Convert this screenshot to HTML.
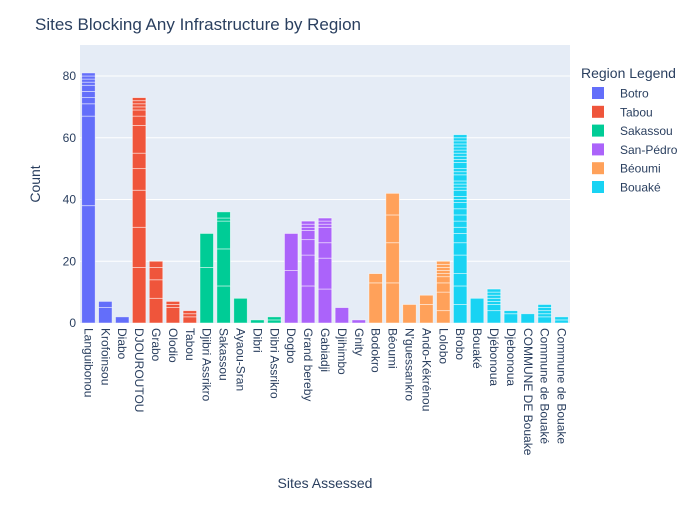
<!DOCTYPE html>
<html><head><meta charset="utf-8"><style>
body{margin:0;background:#fff}
svg text{font-family:"Liberation Sans","Noto Sans CJK JP",sans-serif;fill:#2a3f5f}
</style></head><body>
<svg id="chart" width="700" height="500">
<rect x="0" y="0" width="700" height="500" fill="#fff"/>
<rect x="80" y="45" width="490" height="278" fill="#e5ecf6"/>
<g id="grid"></g><g id="bars"></g><g id="xt"></g><g id="yt"></g>
<text x="35" y="30" font-size="17">Sites Blocking Any Infrastructure by Region</text>
<text x="0" y="0" font-size="14" text-anchor="middle" transform="translate(40,184) rotate(-90)">Count</text>
<text x="325" y="488" font-size="14" text-anchor="middle">Sites Assessed</text>
<g id="legend"><text x="581" y="78" font-size="14">Region Legend</text></g>
</svg>
<script>
const categories=["Languibonou","Krofoinsou","Diabo","DJOUROUTOU","Grabo","Olodio","Tabou","Djibri Assrikro","Sakassou","Ayaou-Sran","Dibri","Dibri Assrikro","Dogbo","Grand bereby","Gabiadji","Djihimbo","Gnity","Bodokro","Béoumi","N'guessankro","Ando-Kékrénou","Lolobo","Brobo","Bouaké","Djébonoua","Djebonoua","COMMUNE DE Bouake","Commune de Bouaké","Commune de Bouake"];
const regionOf=[0,0,0,1,1,1,1,2,2,2,2,2,3,3,3,3,3,4,4,4,4,4,5,5,5,5,5,5,5];
const regions=["Botro","Tabou","Sakassou","San-Pédro","Béoumi","Bouaké"];
const colors=["#636efa","#EF553B","#00cc96","#ab63fa","#FFA15A","#19d3f3"];
const segments=[
[38,29,4,2,2,2,1,1,1,1],[5,2],[2],
[18,13,12,7,5,9,3,2,1,1,1,1],[8,6,4,2],[5,1,1],[2,1,1],
[18,11],[12,12,9,1,2],[8],[1],[1,1],
[17,12],[12,10,5,3,1,1,1],[11,10,5,5,1,1,1],[5],[1],
[13,3],[13,13,9,7],[6],[6,3],[4,6,3,2,1,1,1,1,1],
[6,6,4,6,4,3,2,2,2,2,2,1,1,2,1,1,1,2,1,1,2,1,1,1,1,1,1,1,1,1],[8],[4,2,1,1,1,1,1],[3,1],[3],[2,1,1,1,1],[1,1]];
const yTicks=[0,20,40,60,80];
const NS="http://www.w3.org/2000/svg";
const X0=80,X1=570,Y0=323,PER=61.75/20;
const bw=(X1-X0)/categories.length;
const y=v=>Y0-v*PER;
const mk=(t,a,p)=>{const e=document.createElementNS(NS,t);for(const k in a)e.setAttribute(k,a[k]);p.appendChild(e);return e;};
const grid=document.getElementById('grid'),yt=document.getElementById('yt');
yTicks.forEach(v=>{
 if(v>0){const l=mk('line',{x1:X0,x2:X1,y1:y(v),y2:y(v),stroke:'#fff','stroke-width':1},grid);
 
 }
 const t=mk('text',{x:X0-4,y:y(v)+4,'font-size':12,'text-anchor':'end'},yt);t.textContent=v;
 
 
});
const bars=document.getElementById('bars'),xt=document.getElementById('xt');
categories.forEach((c,i)=>{
 const x=X0+i*bw+bw*0.1,w=bw*0.8;let acc=0;
 segments[i].forEach((s,j)=>{
  const r=mk('rect',{x:x,y:y(acc+s),width:w,height:s*PER,fill:colors[regionOf[i]],stroke:'rgba(255,255,255,0.6)','stroke-width':0.8},bars);
  
  
  acc+=s;
 });
 const cx=X0+(i+0.5)*bw;
 const t=mk('text',{x:0,y:0,'font-size':12,transform:`translate(${cx-4},328) rotate(90)`},xt);t.textContent=c;
 
 
});
const lg=document.getElementById('legend');
regions.forEach((r,k)=>{
 const yy=93+k*18.8;
 const g=mk('g',{},lg);
 
 
 mk('rect',{x:592,y:yy-6,width:12,height:12,fill:colors[k]},g);
 const t=mk('text',{x:620,y:yy+4.5,'font-size':12},g);t.textContent=r;
});
</script>
</body></html>
